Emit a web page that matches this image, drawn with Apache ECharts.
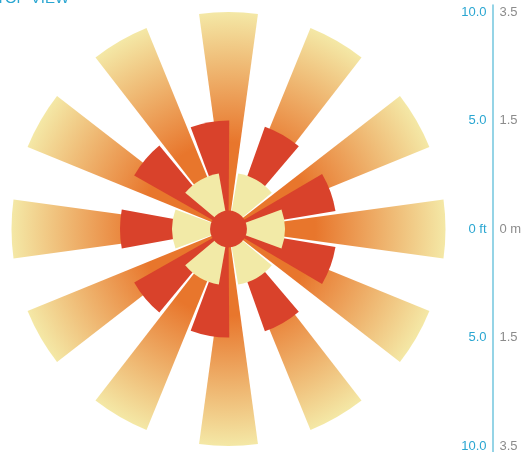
<!DOCTYPE html>
<html>
<head>
<meta charset="utf-8">
<script src="https://cdn.jsdelivr.net/npm/echarts@6/dist/echarts.min.js"></script>
<style>
  html, body { margin: 0; padding: 0; background: #ffffff; }
  #chart { width: 522px; height: 452px; }
</style>
</head>
<body>
<div id="chart"></div>
<script>
// ---- data ----
const titleText = 'TOP VIEW';
// long gradient rays, 12 directions (every 30°)
const longCats = ['90°','60°','30°','0°','330°','300°','270°','240°','210°','180°','150°','120°'];
const longValues = [10, 10, 10, 10, 10, 10, 10, 10, 10, 10, 10, 10];
// red sectors, 9 directions (every 40°)
const redCats = ['100°','60°','20°','340°','300°','260°','220°','180°','140°'];
const redValues = [5, 5, 5, 5, 5, 5, 5, 5, 5];
// pale inner sectors, 6 directions (every 60°)
const paleCats = ['120°','60°','0°','300°','240°','180°'];
const paleValues = [2.6, 2.6, 2.6, 2.6, 2.6, 2.6];
// central hub
const coreCats = ['hub'];
const coreValues = [0.85];
// scale labels
const ftLabels = ['10.0', '5.0', '0 ft', '5.0', '10.0'];
const mLabels = ['3.5', '1.5', '0 m', '1.5', '3.5'];
const scaleValues = [10, 5, 0, -5, -10];

// ---- styles ----
const CX = 228.5, CY = 229, R = 217;
const RED = '#D9422B', PALE = '#F2EAA7';
const BLUE = '#2AA6D1', GRAY = '#8C8C8C', LINE = '#72C6DE';
const FONT = "'Liberation Sans', Arial, Helvetica, sans-serif";

function polarDef() { return { center: [CX, CY], radius: R }; }
function angleAx(idx, cats, startAngle) {
  return { polarIndex: idx, type: 'category', data: cats, startAngle: startAngle, show: false };
}
function radiusAx(idx) {
  return { polarIndex: idx, type: 'value', min: 0, max: 10, show: false };
}
function labelFor(arr) {
  return function (v) {
    const r = Math.round(v * 100) / 100;
    const i = scaleValues.indexOf(r);
    return i >= 0 ? arr[i] : '';
  };
}

const chart = echarts.init(document.getElementById('chart'), null, { renderer: 'canvas' });
chart.setOption({
  animation: false,
  title: {
    text: titleText, left: -4, top: -9, padding: 0,
    textStyle: { color: BLUE, fontSize: 15, fontWeight: 'normal', fontFamily: FONT }
  },
  polar: [polarDef(), polarDef(), polarDef(), polarDef()],
  angleAxis: [
    angleAx(0, longCats, 105),
    angleAx(1, redCats, 120),
    angleAx(2, paleCats, 150),
    angleAx(3, coreCats, 90)
  ],
  radiusAxis: [radiusAx(0), radiusAx(1), radiusAx(2), radiusAx(3)],
  grid: {
    left: 492.5, width: 1, top: 5, height: 25.32 * 21.7,
    containLabel: false, outerBoundsMode: 'none'
  },
  xAxis: { type: 'value', show: false },
  yAxis: [
    {
      type: 'value', position: 'left', min: -15, max: 10.32, interval: 5,
      splitLine: { show: false }, axisTick: { show: false },
      axisLine: { show: true, lineStyle: { color: LINE, width: 1.5 } },
      axisLabel: { formatter: labelFor(ftLabels), color: BLUE, fontSize: 13, fontFamily: FONT, margin: 6 }
    },
    {
      type: 'value', position: 'left', min: -15, max: 10.32, interval: 5,
      splitLine: { show: false }, axisTick: { show: false },
      axisLine: { show: false },
      axisLabel: { inside: true, formatter: labelFor(mLabels), color: GRAY, fontSize: 13, fontFamily: FONT, margin: 7 }
    }
  ],
  series: [
    {
      type: 'bar', coordinateSystem: 'polar', polarIndex: 0, data: longValues,
      barWidth: '52%', z: 1, silent: true,
      itemStyle: {
        color: {
          type: 'radial', x: CX, y: CY, r: R, global: true,
          colorStops: [
            { offset: 0, color: '#E8762C' },
            { offset: 0.4, color: '#E8762C' },
            { offset: 1, color: '#F4E8A6' }
          ]
        }
      }
    },
    {
      type: 'bar', coordinateSystem: 'polar', polarIndex: 1, data: redValues,
      barWidth: '52%', z: 2, silent: true, itemStyle: { color: RED }
    },
    {
      type: 'bar', coordinateSystem: 'polar', polarIndex: 2, data: paleValues,
      barWidth: '67%', z: 3, silent: true, itemStyle: { color: PALE }
    },
    {
      type: 'bar', coordinateSystem: 'polar', polarIndex: 3, data: coreValues,
      barWidth: '100%', z: 4, silent: true, itemStyle: { color: RED }
    }
  ]
});
</script>
</body>
</html>
